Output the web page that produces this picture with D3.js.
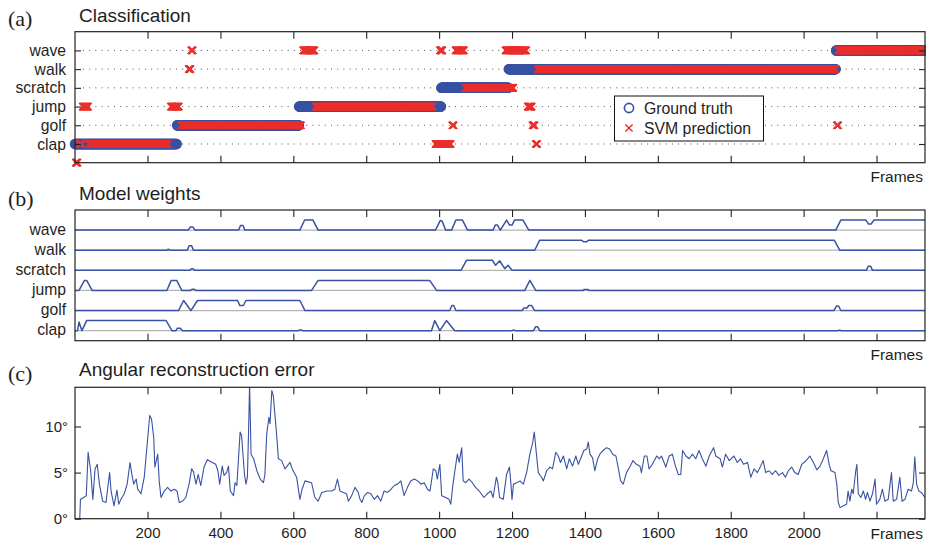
<!DOCTYPE html>
<html><head><meta charset="utf-8">
<script src="https://cdn.jsdelivr.net/npm/d3@7"></script>
<style>
body{margin:0;background:#fff}
svg{display:block}
text{font-family:"Liberation Sans",Arial,Helvetica,sans-serif;fill:#1e1e1e}
.serif{font-family:"Liberation Serif","DejaVu Serif",serif}
</style>
</head><body>
<svg id="c" width="926" height="544"></svg>
<script>
// ---------------- DATA ----------------
const frameDomain = [1, 2333];
const categories = ["clap", "golf", "jump", "scratch", "walk", "wave"];
const xTicks = [200, 400, 600, 800, 1000, 1200, 1400, 1600, 1800, 2000, 2200];
const errTicks = [0, 5, 10];

// ground truth segments [label, firstFrame, lastFrame]
const groundTruth = [
  ["clap", 1, 280], ["golf", 281, 615], ["jump", 616, 1005],
  ["scratch", 1006, 1190], ["walk", 1191, 2088], ["wave", 2089, 2333]
];

// SVM prediction segments [label, firstFrame, lastFrame]
const svmPrediction = [
  ["none", 3, 8], ["clap", 13, 19], ["jump", 22, 37], ["clap", 40, 256],
  ["jump", 264, 286], ["golf", 292, 621], ["walk", 313, 318], ["wave", 320, 324],
  ["wave", 627, 658], ["jump", 661, 982], ["clap", 990, 1032], ["wave", 1002, 1009],
  ["golf", 1036, 1040], ["wave", 1045, 1068], ["scratch", 1072, 1204],
  ["wave", 1182, 1239], ["jump", 1243, 1254], ["golf", 1256, 1262],
  ["clap", 1265, 1269], ["walk", 1270, 2087], ["golf", 2091, 2095], ["wave", 2095, 2333]
];

// model weights: [frame, weight] breakpoints per category
const wClap = [[1,0],[8,0],[12,0.85],[20,0],[33,1],[251,1],[267,0],[278,0],[282,0.25],[290,0.25],[296,0],[614,0],[617,0.07],[622,0.07],[625,0],[979,0],[988,1],[1002,0],[1020,1],[1043,0],[1200,0],[1202,0.05],[1207,0.05],[1209,0],[1259,0],[1265,0.4],[1270,0.4],[1276,0],[2095,0],[2097,0.05],[2100,0.05],[2102,0],[2333,0]];
const wGolf = [[1,0],[285,0],[299,1],[319,0],[337,1],[447,1],[453,0.5],[463,0.5],[470,1],[618,1],[632,0],[1029,0],[1035,0.5],[1040,0.5],[1046,0],[1228,0],[1232,0.25],[1241,0.25],[1246,0.5],[1254,0.5],[1262,0],[2083,0],[2090,0.45],[2096,0.45],[2102,0],[2333,0]];
const wJump = [[1,0],[12,0],[27,1],[33,1],[48,0],[253,0],[265,1],[280,1],[294,0],[318,0],[322,0.12],[328,0.12],[332,0],[650,0],[668,1],[974,1],[993,0],[1235,0],[1249,1],[1265,0],[1395,0],[1398,0.1],[1408,0.1],[1411,0],[2333,0]];
const wScratch = [[1,0],[316,0],[320,0.15],[325,0.15],[329,0],[1060,0],[1075,1],[1146,1],[1155,0.5],[1166,0.95],[1180,0.17],[1189,0.5],[1200,0],[2172,0],[2177,0.4],[2184,0.4],[2189,0],[2333,0]];
const wWalk = [[1,0],[253,0],[257,0.1],[261,0],[309,0],[314,0.45],[321,0.45],[326,0],[1262,0],[1276,1],[1390,1],[1396,0.85],[1405,0.85],[1410,1],[2084,1],[2099,0],[2333,0]];
const wWave = [[1,0],[312,0],[317,0.3],[325,0.3],[330,0],[450,0],[455,0.45],[462,0.45],[467,0],[618,0],[631,1],[654,1],[668,0],[990,0],[1003,0.95],[1008,0.9],[1018,0],[1034,0],[1046,1],[1064,1],[1078,0],[1148,0],[1154,0.5],[1160,0.5],[1168,0],[1185,1],[1193,0.5],[1200,0.5],[1207,1],[1230,1],[1246,0],[2088,0],[2102,1],[2171,1],[2178,0.6],[2185,0.6],[2193,1],[2333,1]];
const modelWeights = {clap: wClap, golf: wGolf, jump: wJump, scratch: wScratch, walk: wWalk, wave: wWave};

// angular reconstruction error [frame, degrees]
const angErr = [[1,0],[14,0],[16,2.1],[25,2.3],[32,2.5],[37,7.2],[44,5.2],[50,2.1],[56,5.4],[62,5.9],[68,3.75],[73,2.7],[77,1.9],[86,1.76],[96,5.0],[100,3.0],[108,1.4],[116,3.1],[121,1.57],[127,2.1],[136,2.7],[144,3.75],[152,6.1],[157,4.8],[162,3.75],[169,4.3],[173,3.2],[182,2.7],[191,4.5],[199,8.1],[206,11.2],[211,10.8],[217,8.8],[220,5.6],[228,7.0],[232,4.1],[237,2.3],[246,3.0],[255,3.4],[264,3.0],[273,3.2],[281,3.0],[287,1.76],[296,1.9],[305,2.3],[314,3.75],[321,5.4],[326,5.1],[333,3.75],[339,4.8],[346,3.6],[355,5.6],[364,6.4],[378,6.1],[387,5.9],[393,5.2],[398,3.75],[405,5.7],[410,4.7],[417,5.0],[422,5.7],[427,3.0],[436,2.5],[440,3.9],[445,3.6],[454,9.4],[458,9.0],[466,4.8],[470,3.75],[474,4.5],[477,9.2],[480,14.6],[484,7.0],[491,6.5],[500,5.2],[509,4.3],[518,3.9],[522,4.8],[527,9.2],[533,11.0],[536,10.3],[541,13.9],[545,13.35],[554,9.2],[559,6.5],[568,6.3],[577,5.4],[591,6.1],[597,5.4],[609,4.5],[618,2.1],[624,3.2],[632,4.1],[650,3.9],[659,2.3],[668,1.9],[678,2.85],[692,3.0],[705,3.0],[714,3.2],[721,4.3],[728,3.0],[737,2.85],[746,2.7],[751,1.9],[760,2.5],[769,3.4],[778,2.85],[783,2.1],[788,1.76],[795,2.5],[804,2.85],[813,2.7],[822,2.1],[831,2.5],[840,1.9],[849,3.0],[859,2.85],[868,3.2],[877,3.6],[886,3.75],[895,4.1],[904,2.5],[913,3.4],[922,4.1],[932,4.3],[941,4.1],[950,3.75],[959,3.9],[968,3.2],[975,3.0],[984,5.4],[991,5.2],[995,4.3],[1002,5.9],[1007,2.5],[1018,2.3],[1027,2.1],[1032,1.57],[1038,3.75],[1044,5.4],[1050,7.0],[1055,6.1],[1062,7.7],[1066,4.1],[1073,3.9],[1082,4.3],[1091,3.9],[1100,3.4],[1110,3.0],[1123,2.3],[1132,2.7],[1142,3.0],[1148,2.3],[1157,4.5],[1161,3.9],[1166,2.3],[1176,2.1],[1185,4.8],[1193,5.6],[1197,3.75],[1200,2.1],[1204,3.75],[1213,3.9],[1222,4.1],[1231,3.75],[1240,5.0],[1249,7.0],[1257,8.3],[1261,9.4],[1266,7.4],[1272,5.0],[1281,4.5],[1286,4.1],[1295,5.2],[1304,5.6],[1311,5.4],[1320,7.2],[1327,6.8],[1333,6.1],[1341,6.8],[1350,5.4],[1357,6.5],[1366,5.7],[1375,6.8],[1382,5.9],[1391,6.8],[1397,7.4],[1405,7.55],[1409,8.3],[1414,7.0],[1421,6.6],[1427,5.2],[1435,6.5],[1441,7.0],[1450,7.4],[1459,7.7],[1468,7.55],[1476,7.0],[1485,6.8],[1491,5.6],[1498,4.1],[1505,3.75],[1514,5.0],[1523,5.6],[1532,6.3],[1541,5.9],[1551,5.7],[1555,5.0],[1563,6.8],[1570,6.8],[1576,5.4],[1585,5.9],[1597,6.8],[1604,6.5],[1610,6.8],[1622,5.6],[1631,6.8],[1640,7.0],[1647,5.9],[1656,4.8],[1663,4.8],[1668,7.4],[1677,6.8],[1686,6.5],[1695,7.0],[1704,6.5],[1713,7.4],[1722,6.5],[1732,5.7],[1741,6.8],[1753,7.7],[1759,6.8],[1771,6.5],[1777,5.6],[1786,7.0],[1796,6.3],[1809,6.8],[1818,6.1],[1827,6.5],[1835,5.9],[1846,6.1],[1855,4.5],[1864,5.4],[1873,5.0],[1882,5.7],[1889,6.3],[1896,5.0],[1905,5.2],[1914,4.8],[1923,5.2],[1932,4.7],[1942,5.0],[1950,4.5],[1958,5.2],[1967,5.6],[1976,5.0],[1985,4.8],[1995,5.9],[2004,6.2],[2013,6.6],[2017,6.8],[2027,6.1],[2036,5.3],[2045,5.7],[2054,6.5],[2063,7.4],[2070,5.9],[2075,5.2],[2086,5.0],[2091,3.75],[2095,1.76],[2100,1.2],[2109,1.4],[2118,1.57],[2122,3.0],[2127,1.9],[2132,3.2],[2136,2.7],[2143,5.2],[2146,5.9],[2150,2.7],[2157,2.3],[2164,3.0],[2170,2.1],[2175,2.85],[2182,1.9],[2189,2.7],[2196,4.3],[2200,1.57],[2209,2.1],[2216,3.2],[2223,1.9],[2232,2.1],[2241,5.0],[2246,1.9],[2255,2.1],[2264,4.5],[2270,1.9],[2278,2.1],[2287,3.2],[2296,3.0],[2301,3.9],[2305,6.7],[2310,3.75],[2316,3.0],[2323,2.85],[2333,2.3]];

// ---------------- DRAW ----------------
const svg = d3.select("#c");
const L = 75, R = 925;
const blue = "#3952a3", red = "#ea2f2c", boxCol = "#222";
const x = d3.scaleLinear().domain(frameDomain).range([L, R]);
const rowOf = c => c === "none" ? 0 : categories.indexOf(c) + 1;

function box(top, bottom) {
  svg.append("rect").attr("x", L).attr("y", top).attr("width", R - L).attr("height", bottom - top)
    .attr("fill", "none").attr("stroke", boxCol).attr("stroke-width", 1.2);
}
function xTickMarks(top, bottom, labels) {
  const gb = svg.append("g").attr("transform", `translate(0,${bottom})`)
    .call(d3.axisBottom(x).tickValues(xTicks).tickSize(-7).tickPadding(9)
      .tickFormat(labels ? (d => d === 2200 ? "" : d) : ""));
  const gt = svg.append("g").attr("transform", `translate(0,${top})`)
    .call(d3.axisTop(x).tickValues(xTicks).tickSize(-7).tickFormat(""));
  [gb, gt].forEach(g => {
    g.select(".domain").remove();
    g.selectAll("line").attr("stroke", boxCol).attr("stroke-width", 1.1);
    g.selectAll("text").attr("font-size", 15).attr("font-family", "Liberation Sans, Arial, sans-serif").attr("fill", "#1e1e1e");
  });
}
function title(tag, txt, tagY, txtY) {
  svg.append("text").attr("class", "serif").attr("x", 8).attr("y", tagY).attr("font-size", 22).text(tag);
  svg.append("text").attr("x", 79).attr("y", txtY).attr("font-size", 19).text(txt);
}
function framesLabel(y) {
  svg.append("text").attr("x", 923).attr("y", y).attr("text-anchor", "end").attr("font-size", 15.5).text("Frames");
}

// ===== Panel (a) =====
const ya = d3.scaleLinear().domain([0, 7]).range([162.7, 31.7]);
title("(a)", "Classification", 26, 22);
// dotted row lines
svg.append("g").selectAll("line").data(categories).join("line")
  .attr("x1", L + 8).attr("x2", R - 6)
  .attr("y1", c => ya(rowOf(c))).attr("y2", c => ya(rowOf(c)))
  .attr("stroke", "#555").attr("stroke-width", 1).attr("stroke-dasharray", "1,5.2");
// ground truth circles
const gtFrames = groundTruth.flatMap(([c, s, e]) => d3.range(s, e + 1).map(f => [f, rowOf(c)]));
svg.append("g").selectAll("circle").data(gtFrames).join("circle")
  .attr("cx", d => x(d[0])).attr("cy", d => ya(d[1])).attr("r", 4.6)
  .attr("fill", "none").attr("stroke", blue).attr("stroke-width", 1.3);
// predictions
const prFrames = svmPrediction.flatMap(([c, s, e]) => d3.range(s, e + 1).map(f => [f, rowOf(c)]));
const xMark = "M-3.6,-3.6L3.6,3.6M-3.6,3.6L3.6,-3.6";
svg.append("g").selectAll("path").data(prFrames).join("path")
  .attr("d", xMark).attr("transform", d => `translate(${x(d[0])},${ya(d[1])})`)
  .attr("fill", "none").attr("stroke", red).attr("stroke-width", 1.4);
// y axes
const yaLeft = svg.append("g").attr("transform", `translate(${L},0)`)
  .call(d3.axisLeft(ya).tickValues(d3.range(1, 7)).tickSize(-6).tickPadding(9).tickFormat(v => categories[v - 1]));
const yaRight = svg.append("g").attr("transform", `translate(${R},0)`)
  .call(d3.axisRight(ya).tickValues(d3.range(1, 7)).tickSize(-6).tickFormat(""));
[yaLeft, yaRight].forEach(g => {
  g.select(".domain").remove();
  g.selectAll("line").attr("stroke", boxCol).attr("stroke-width", 1.1);
  g.selectAll("text").attr("font-size", 15.7).attr("font-family", "Liberation Sans, Arial, sans-serif").attr("fill", "#1e1e1e");
});
xTickMarks(31.7, 162.7, false);
box(31.7, 162.7);
framesLabel(182);
// legend
const lg = svg.append("g");
lg.append("rect").attr("x", 614.5).attr("y", 96).attr("width", 149).attr("height", 45)
  .attr("fill", "#fff").attr("stroke", "#111").attr("stroke-width", 1);
lg.append("circle").attr("cx", 629).attr("cy", 108).attr("r", 4.6).attr("fill", "none").attr("stroke", blue).attr("stroke-width", 1.6);
lg.append("path").attr("d", xMark).attr("transform", "translate(629,128)").attr("fill", "none").attr("stroke", red).attr("stroke-width", 1.4);
lg.append("text").attr("x", 644).attr("y", 114).attr("font-size", 15.8).text("Ground truth");
lg.append("text").attr("x", 644).attr("y", 134).attr("font-size", 15.8).text("SVM prediction");

// ===== Panel (b) =====
const yb = d3.scaleLinear().domain([0.5, 7]).range([340.7, 210]);
title("(b)", "Model weights", 206, 200);
svg.append("g").selectAll("line").data(categories).join("line")
  .attr("x1", L).attr("x2", R)
  .attr("y1", c => yb(rowOf(c))).attr("y2", c => yb(rowOf(c)))
  .attr("stroke", "#b4b4b4").attr("stroke-width", 1.3);
const wLine = c => d3.line().x(d => x(d[0])).y(d => yb(rowOf(c) + 0.5 * d[1]));
svg.append("g").selectAll("path").data(categories).join("path")
  .attr("d", c => wLine(c)(modelWeights[c]))
  .attr("fill", "none").attr("stroke", blue).attr("stroke-width", 1.5).attr("stroke-linejoin", "round");
const ybLeft = svg.append("g").attr("transform", `translate(${L},0)`)
  .call(d3.axisLeft(yb).tickValues(d3.range(1, 7)).tickSize(0).tickPadding(9).tickFormat(v => categories[v - 1]));
ybLeft.select(".domain").remove();
ybLeft.selectAll("text").attr("font-size", 15.7).attr("font-family", "Liberation Sans, Arial, sans-serif").attr("fill", "#1e1e1e").attr("dy", "0.25em");
xTickMarks(210, 340.7, false);
box(210, 340.7);
framesLabel(359.5);

// ===== Panel (c) =====
const yc = d3.scaleLinear().domain([0, 14.25]).range([518.7, 387.3]);
title("(c)", "Angular reconstruction error", 381, 375.5);
svg.append("clipPath").attr("id", "clipc").append("rect")
  .attr("x", L).attr("y", 387.3).attr("width", R - L).attr("height", 518.7 - 387.3);
svg.append("path").datum(angErr).attr("clip-path", "url(#clipc)")
  .attr("d", d3.line().x(d => x(d[0])).y(d => yc(d[1])))
  .attr("fill", "none").attr("stroke", blue).attr("stroke-width", 1.1).attr("stroke-linejoin", "round");
const ycLeft = svg.append("g").attr("transform", `translate(${L},0)`)
  .call(d3.axisLeft(yc).tickValues(errTicks).tickSize(-6).tickPadding(7).tickFormat(v => v + "°"));
const ycRight = svg.append("g").attr("transform", `translate(${R},0)`)
  .call(d3.axisRight(yc).tickValues(errTicks).tickSize(-6).tickFormat(""));
[ycLeft, ycRight].forEach(g => {
  g.select(".domain").remove();
  g.selectAll("line").attr("stroke", boxCol).attr("stroke-width", 1.1);
  g.selectAll("text").attr("font-size", 15).attr("font-family", "Liberation Sans, Arial, sans-serif").attr("fill", "#1e1e1e");
});
xTickMarks(387.3, 518.7, true);
box(387.3, 518.7);
framesLabel(539);
</script>
</body></html>
